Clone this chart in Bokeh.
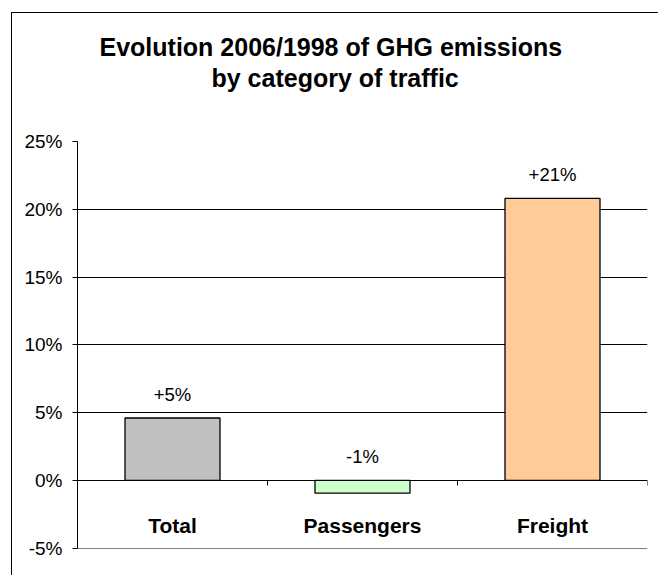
from bokeh.plotting import figure
from bokeh.layouts import column
from bokeh.models import (ColumnDataSource, Range1d, LinearAxis, FixedTicker,
                          NumeralTickFormatter, Title)
from bokeh.core.properties import value
from bokeh.embed import file_html
from bokeh.resources import INLINE

categories = ["Total", "Passengers", "Freight"]
changes = [0.046, -0.0095, 0.208]
labels = ["+5%", "-1%", "+21%"]
colors = ["#C0C0C0", "#CCFFCC", "#FFCC99"]
y_ticks = [-0.05, 0.0, 0.05, 0.10, 0.15, 0.20, 0.25]
title_lines = ["Evolution 2006/1998 of GHG emissions", "by category of traffic"]

FONT = "Liberation Sans"

n = len(categories)
centers = [i + 0.5 for i in range(n)]
edges = list(range(n + 1))

src = ColumnDataSource(dict(
    x=centers, val=changes, lab=labels, col=colors,
    top=[max(v, 0) for v in changes],
))

# ---- title strip (a figure holding only the two title lines) ----
tf = figure(width=646, height=100, output_backend="svg", toolbar_location=None,
            x_axis_location=None, y_axis_location=None,
            min_border_left=65, min_border_right=11, min_border_top=79, min_border_bottom=0)
tf.outline_line_color = None
tf.background_fill_color = "white"
tf.border_fill_color = "white"
for g in tf.grid:
    g.visible = False

t2 = Title(text=title_lines[1], align="left", offset=134,
           text_font=FONT, text_font_size="25px", text_font_style="bold", text_color="black",
           standoff=1)
t1 = Title(text=title_lines[0], align="left", offset=22,
           text_font=FONT, text_font_size="25px", text_font_style="bold", text_color="black",
           standoff=2)
tf.add_layout(t2, "above")
tf.add_layout(t1, "above")

# ---- main chart ----
p = figure(x_range=Range1d(0, n), y_range=Range1d(y_ticks[0] - 0.0003, y_ticks[-1]),
           width=646, height=462, output_backend="svg", toolbar_location=None,
           x_axis_location=None,
           min_border_left=65, min_border_right=11, min_border_top=28, min_border_bottom=27)
p.outline_line_color = None
p.background_fill_color = "white"
p.border_fill_color = "white"

p.vbar(x="x", top="val", bottom=0, width=0.5, source=src, fill_color="col",
       line_color="black", line_width=1.3)
p.text(x="x", y="top", text="lab", source=src, text_align="center", text_baseline="bottom",
       y_offset=-13, text_font=value(FONT), text_font_size="18.5px", text_color="black")

# y axis
p.yaxis.ticker = FixedTicker(ticks=y_ticks)
p.yaxis.formatter = NumeralTickFormatter(format="0%")
p.yaxis.major_label_text_font = FONT
p.yaxis.major_label_text_font_size = "19px"
p.yaxis.major_label_text_color = "black"
p.yaxis.axis_line_color = "black"
p.yaxis.major_tick_line_color = "black"
p.yaxis.major_tick_out = 5
p.yaxis.major_tick_in = 0
p.yaxis.minor_tick_line_color = None
p.yaxis.major_label_standoff = 10

p.ygrid.ticker = FixedTicker(ticks=y_ticks)
p.ygrid.grid_line_color = "black"
p.ygrid.grid_line_width = 1
p.xgrid.grid_line_color = None

# category labels along y=0, with boundary tick marks as minor ticks
la = LinearAxis(ticker=FixedTicker(ticks=centers, minor_ticks=edges), fixed_location=0,
                major_label_overrides={c: name for c, name in zip(centers, categories)},
                axis_line_color=None, major_tick_line_color=None,
                minor_tick_line_color="black", minor_tick_out=5, minor_tick_in=0,
                major_label_standoff=28, major_label_text_font=FONT,
                major_label_text_font_style="bold", major_label_text_font_size="21px",
                major_label_text_color="black")
p.add_layout(la, "below")

layout = column(tf, p, spacing=0)
layout.margin = (12, 0, 0, 11)
layout.styles = {"border-left": "1px solid black", "border-top": "1px solid black"}

open("out.html", "w").write(file_html(layout, INLINE))
